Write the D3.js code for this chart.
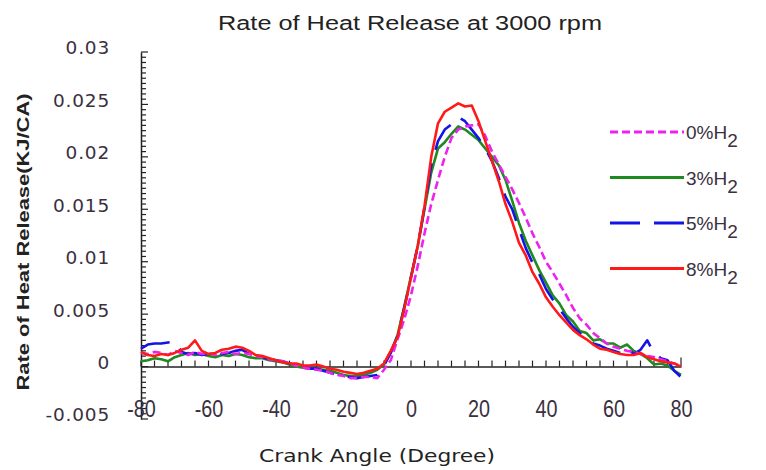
<!DOCTYPE html>
<html><head><meta charset="utf-8">
<script src="https://cdn.jsdelivr.net/npm/d3@7"></script>
<style>body{margin:0;background:#fff}</style>
</head><body>
<svg id="c" width="766" height="470"></svg>
<script>
const angles = d3.range(-80, 81, 2);
const seriesNames = ["0%H", "3%H", "5%H", "8%H"];
const h2_0 = [0.0013,0.0012,0.0014,0.0013,0.0011,0.0015,0.0013,0.0011,0.0014,0.0012,0.0013,0.0011,0.0013,0.0014,0.0012,0.0013,0.0012,0.0010,0.0009,0.0007,0.0006,0.0005,0.0003,0.0001,-0.0001,-0.0002,-0.0003,-0.0004,-0.0006,-0.0008,-0.0009,-0.0011,-0.0011,-0.0010,-0.0010,-0.0011,-0.0003,0.0006,0.0026,0.0045,0.0068,0.0096,0.0127,0.0155,0.0178,0.0200,0.0218,0.0226,0.0229,0.0230,0.0231,0.0220,0.0205,0.0193,0.0181,0.0169,0.0156,0.0142,0.0127,0.0114,0.0100,0.0090,0.0079,0.0068,0.0056,0.0046,0.0040,0.0032,0.0027,0.0022,0.0019,0.0017,0.0015,0.0014,0.0012,0.0010,0.0009,0.0007,0.0005,0.0003,0.0000];
const h2_3 = [0.0005,0.0006,0.0008,0.0007,0.0005,0.0009,0.0011,0.0013,0.0011,0.0012,0.0010,0.0009,0.0011,0.0010,0.0012,0.0011,0.0009,0.0008,0.0008,0.0006,0.0005,0.0004,0.0002,0.0000,-0.0001,-0.0002,-0.0002,-0.0003,-0.0004,-0.0006,-0.0008,-0.0009,-0.0009,-0.0008,-0.0006,-0.0003,0.0002,0.0014,0.0030,0.0057,0.0086,0.0115,0.0150,0.0185,0.0208,0.0214,0.0222,0.0229,0.0226,0.0221,0.0216,0.0208,0.0200,0.0192,0.0178,0.0158,0.0137,0.0120,0.0106,0.0092,0.0080,0.0068,0.0060,0.0049,0.0043,0.0034,0.0032,0.0025,0.0026,0.0022,0.0022,0.0018,0.0021,0.0015,0.0012,0.0008,0.0002,0.0003,0.0001,-0.0004,-0.0008];
const h2_5 = [0.0017,0.0021,0.0022,0.0022,0.0023,0.0024,0.0014,0.0012,0.0013,0.0011,0.0012,0.0010,0.0012,0.0013,0.0015,0.0016,0.0012,0.0010,0.0009,0.0007,0.0006,0.0005,0.0003,0.0001,0.0000,-0.0002,-0.0002,-0.0004,-0.0006,-0.0008,-0.0009,-0.0010,-0.0011,-0.0010,-0.0009,-0.0008,0.0001,0.0013,0.0029,0.0056,0.0085,0.0115,0.0152,0.0192,0.0215,0.0226,0.0231,0.0238,0.0234,0.0226,0.0218,0.0208,0.0196,0.0180,0.0162,0.0150,0.0131,0.0113,0.0099,0.0088,0.0074,0.0064,0.0055,0.0046,0.0038,0.0032,0.0028,0.0022,0.0020,0.0017,0.0015,0.0013,0.0018,0.0012,0.0016,0.0025,0.0013,0.0008,0.0006,-0.0004,-0.0010];
const h2_8 = [0.0014,0.0011,0.0010,0.0012,0.0011,0.0013,0.0016,0.0018,0.0025,0.0015,0.0012,0.0013,0.0016,0.0017,0.0019,0.0018,0.0015,0.0011,0.0010,0.0008,0.0006,0.0004,0.0003,0.0003,0.0001,0.0001,0.0002,0.0000,-0.0002,-0.0003,-0.0005,-0.0006,-0.0007,-0.0006,-0.0004,-0.0002,0.0003,0.0015,0.0028,0.0055,0.0085,0.0115,0.0153,0.0200,0.0232,0.0243,0.0247,0.0251,0.0248,0.0249,0.0234,0.0215,0.0196,0.0177,0.0155,0.0138,0.0118,0.0106,0.0090,0.0079,0.0066,0.0057,0.0049,0.0042,0.0035,0.0030,0.0026,0.0021,0.0017,0.0016,0.0014,0.0012,0.0011,0.0011,0.0013,0.0009,0.0007,0.0005,0.0004,0.0003,0.0000];
const yTicks = [-0.005, 0, 0.005, 0.01, 0.015, 0.02, 0.025, 0.03];
const yTickLabels = ["-0.005", "0", "0.005", "0.01", "0.015", "0.02", "0.025", "0.03"];
const xTicks = [-80, -60, -40, -20, 0, 20, 40, 60, 80];
const xTickLabels = ["-80", "-60", "-40", "-20", "0", "20", "40", "60", "80"];

const svg = d3.select("#c");
const x = d3.scaleLinear().domain([-80, 80]).range([141, 681]);
const y = d3.scaleLinear().domain([-0.005, 0.03]).range([419, 52]);

// title
svg.append("text").attr("x", 410).attr("y", 30).attr("text-anchor", "middle")
  .attr("font-family", "Liberation Sans, Arial, sans-serif").attr("font-size", 20).attr("fill", "#222")
  .attr("textLength", 384).attr("lengthAdjust", "spacingAndGlyphs")
  .text("Rate of Heat Release  at 3000 rpm");

// y axis
const yAxis = d3.axisLeft(y).tickValues(yTicks).tickSize(0).tickPadding(0)
  .tickFormat((d, i) => yTickLabels[i]);
const gy = svg.append("g").attr("transform", "translate(141,0)").call(yAxis);
gy.select(".domain").attr("stroke", "#222").attr("stroke-width", 1.5);
gy.selectAll("text").attr("x", -31).attr("dy", "0.1em").attr("font-family", "DejaVu Sans, sans-serif")
  .attr("font-size", 18.5).attr("letter-spacing", 0.8).attr("fill", "#3a3040");
// y minor ticks (inside, right)
const yMinor = d3.range(-0.005, 0.03001, 0.0005);
svg.append("g").selectAll("line").data(yMinor).join("line")
  .attr("x1", 141).attr("x2", (d, i) => i % 10 === 0 ? 148 : 146)
  .attr("y1", d => y(d)).attr("y2", d => y(d)).attr("stroke", "#222").attr("stroke-width", 1.2);

// x axis at y=0
const xAxis = d3.axisBottom(x).tickValues(xTicks).tickSize(0).tickPadding(0)
  .tickFormat((d, i) => xTickLabels[i]);
const gx = svg.append("g").attr("transform", `translate(0,${y(0)})`).call(xAxis);
gx.select(".domain").attr("stroke", "#222").attr("stroke-width", 1.5);
gx.selectAll("text").attr("y", 34).attr("font-family", "Liberation Sans, Arial, sans-serif")
  .attr("font-size", 23).attr("fill", "#3a3040")
  .each(function () { const w = this.getComputedTextLength(); d3.select(this).attr("textLength", w * 0.86).attr("lengthAdjust", "spacingAndGlyphs"); });
const xMinor = d3.range(-80, 81, 4);
svg.append("g").selectAll("line").data(xMinor).join("line")
  .attr("x1", d => x(d)).attr("x2", d => x(d))
  .attr("y1", y(0)).attr("y2", (d, i) => y(0) - (i === xMinor.length - 1 ? 9 : 6))
  .attr("stroke", "#222").attr("stroke-width", 1.2);

// axis titles
svg.append("text").attr("transform", "translate(29,242) rotate(-90)").attr("text-anchor", "middle")
  .attr("font-family", "Liberation Sans, Arial, sans-serif").attr("font-weight", "bold").attr("font-size", 17)
  .attr("fill", "#222").attr("textLength", 297).attr("lengthAdjust", "spacingAndGlyphs")
  .text("Rate of Heat Release(KJ/CA)");
svg.append("text").attr("x", 377).attr("y", 462).attr("text-anchor", "middle")
  .attr("font-family", "DejaVu Sans, sans-serif").attr("font-size", 17).attr("fill", "#222")
  .attr("textLength", 236).attr("lengthAdjust", "spacingAndGlyphs")
  .text("Crank Angle (Degree)");

// series
const series = [
  { name: seriesNames[1], vals: h2_3, color: "#1f8a1f", dash: null },
  { name: seriesNames[2], vals: h2_5, color: "#1414e6", dash: "30,14" },
  { name: seriesNames[0], vals: h2_0, color: "#ee22ee", dash: "8,4" },
  { name: seriesNames[3], vals: h2_8, color: "#ff1a1a", dash: null }
];
const line = d3.line().x(d => x(d[0])).y(d => y(d[1]));
svg.append("g").selectAll("path").data(series).join("path")
  .attr("d", s => line(angles.map((a, i) => [a, s.vals[i]])))
  .attr("fill", "none").attr("stroke", s => s.color).attr("stroke-width", 2.6)
  .attr("stroke-linejoin", "round")
  .attr("stroke-dasharray", s => s.dash);

// legend
const legendOrder = [series[2], series[0], series[1], series[3]];
const lg = svg.append("g").selectAll("g").data(legendOrder).join("g")
  .attr("transform", (d, i) => `translate(0,${132 + i * 45.5})`);
lg.append("line").attr("x1", 610).attr("x2", 684).attr("y1", 0).attr("y2", 0)
  .attr("stroke", d => d.color).attr("stroke-width", 3).attr("stroke-dasharray", d => d.dash);
const lt = lg.append("text").attr("x", 686).attr("y", 7)
  .attr("font-family", "Liberation Sans, Arial, sans-serif").attr("font-size", 19).attr("fill", "#3a3040");
lt.append("tspan").text(d => d.name);
lt.append("tspan").attr("dy", 8).text("2");
</script>
</body></html>
